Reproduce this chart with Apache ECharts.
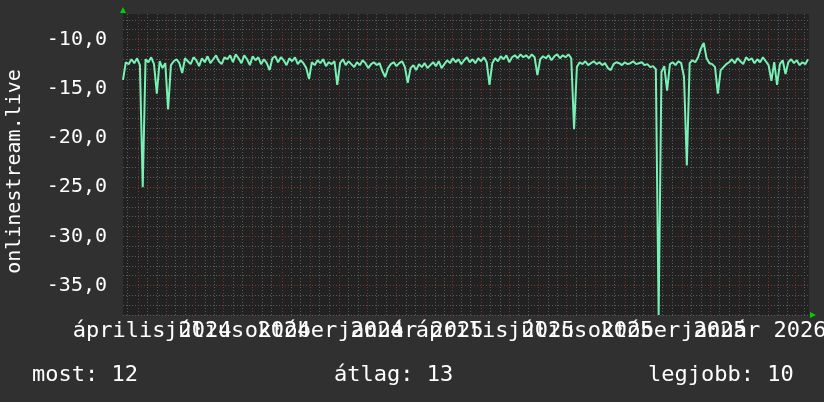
<!DOCTYPE html>
<html><head><meta charset="utf-8">
<script src="https://cdn.jsdelivr.net/npm/echarts@6/dist/echarts.min.js"></script>
<style>html,body{margin:0;padding:0;background:#303030;}#c{width:824px;height:402px;}</style>
</head><body><div id="c"></div>
<script>
// ---- data ----
const startDate = [2024, 2, 16];   // first day shown (UTC y, monthIndex, d)
const dayCount = 731;              // days on the axis
const sampleStep = 3;              // one reading every 3 days
const monthNames = ['január','február','március','április','május','június','július','augusztus','szeptember','október','november','december'];
const labelMonths = [0, 3, 6, 9];  // quarterly labels
const yTitle = 'onlinestream.live';
const legendTexts = ['most: 12', 'átlag: 13', 'legjobb: 10'];
const values = [
 -14.1,-12.3,-12.5,-12.0,-12.4,-11.9,-12.6,-25.0,-12.0,-12.3,
 -11.8,-12.5,-15.5,-12.2,-12.9,-12.4,-17.1,-12.6,-12.2,-12.0,
 -12.4,-13.4,-11.9,-12.2,-12.5,-11.8,-12.1,-12.7,-11.9,-12.3,
 -11.7,-12.4,-12.0,-11.6,-12.2,-12.5,-11.8,-12.0,-11.6,-12.3,
 -11.5,-11.9,-12.4,-11.6,-12.0,-12.6,-11.7,-12.1,-11.8,-12.5,
 -12.0,-12.4,-13.1,-11.9,-11.7,-12.3,-11.8,-12.1,-12.6,-11.9,
 -12.2,-11.8,-12.5,-12.1,-12.4,-12.9,-14.0,-12.3,-12.6,-12.1,
 -12.4,-12.0,-12.7,-12.3,-12.5,-12.2,-14.6,-12.4,-12.0,-12.6,
 -12.2,-12.5,-12.8,-12.3,-12.6,-12.1,-12.4,-12.9,-12.5,-12.3,
 -12.6,-12.4,-13.2,-13.8,-12.9,-12.5,-12.3,-12.7,-12.4,-12.2,
 -12.8,-14.4,-12.9,-12.6,-13.1,-12.5,-12.8,-12.4,-12.9,-12.6,
 -12.3,-12.7,-12.2,-12.9,-12.5,-12.1,-12.4,-11.9,-12.3,-12.0,
 -12.5,-12.1,-11.8,-12.3,-12.0,-12.4,-11.9,-12.2,-11.8,-12.3,
 -14.6,-12.4,-11.9,-12.2,-11.7,-12.0,-11.6,-12.3,-11.8,-11.6,
 -11.9,-11.5,-11.8,-11.6,-11.9,-11.5,-11.8,-13.6,-12.0,-11.7,
 -11.9,-11.6,-12.1,-11.7,-11.5,-11.9,-11.6,-11.8,-11.5,-11.9,
 -19.1,-12.8,-12.3,-12.5,-12.2,-12.6,-12.4,-12.2,-12.5,-12.3,
 -12.6,-12.4,-12.9,-13.1,-12.5,-12.3,-12.4,-12.6,-12.3,-12.5,
 -12.4,-12.2,-12.5,-12.4,-12.3,-12.6,-12.5,-12.8,-12.7,-13.0,
 -38.0,-13.3,-12.7,-15.2,-12.5,-12.3,-12.6,-12.2,-12.4,-13.8,
 -22.8,-12.4,-12.1,-12.3,-11.8,-10.9,-10.35,-11.9,-12.4,-12.5,
 -12.8,-15.5,-13.1,-12.8,-12.5,-12.3,-12.0,-12.4,-11.9,-12.2,
 -12.5,-11.8,-12.1,-11.9,-12.4,-12.0,-12.3,-11.8,-12.2,-12.6,
 -14.2,-12.3,-14.6,-12.5,-12.1,-13.5,-12.3,-12.0,-12.4,-12.1,
 -12.6,-12.3,-12.5,-12.0
];

// ---- build ----
const categories = [];
for (let i = 0; i < dayCount; i++) {
  const d = new Date(Date.UTC(startDate[0], startDate[1], startDate[2] + i));
  categories.push(d.toISOString().slice(0, 10));
}
const seriesData = values.map((v, i) => [i * sampleStep, v]);
const isLabelDay = val => { const d = new Date(val); return d.getUTCDate() === 16 && labelMonths.includes(d.getUTCMonth()); };

const G = {left: 123, top: 14, width: 686, height: 301};
const FONT = "'DejaVu Sans Mono', monospace";
const GREY = '#5a5a5a', RED = '#7a3434';

const chart = echarts.init(document.getElementById('c'), null, {renderer: 'canvas'});
chart.setOption({
  backgroundColor: '#303030',
  animation: false,
  grid: {left: G.left, top: G.top, width: G.width, height: G.height, show: true,
         backgroundColor: '#222222', borderWidth: 0, containLabel: false, outerBoundsMode: 'none'},
  xAxis: {
    type: 'category', data: categories, boundaryGap: false,
    axisLine: {show: false}, axisTick: {show: false},
    axisLabel: {
      interval: 0,
      formatter: val => { if (!isLabelDay(val)) return ''; const d = new Date(val); return monthNames[d.getUTCMonth()] + ' ' + d.getUTCFullYear(); },
      color: '#ffffff', fontFamily: FONT, fontSize: 22, margin: 5, hideOverlap: false
    },
    splitLine: {
      show: true,
      interval: (idx, val) => [1, 11, 21].includes(new Date(val).getUTCDate()),
      lineStyle: {color: [GREY, RED, GREY], width: 1, type: [1, 2]}
    }
  },
  yAxis: {
    type: 'value', min: -38, max: -7.4, interval: 1,
    axisLine: {show: false}, axisTick: {show: false},
    axisLabel: {
      formatter: v => (Math.abs(v % 5) < 1e-9 ? v.toFixed(1).replace('.', ',') : ''),
      color: '#ffffff', fontFamily: FONT, fontSize: 20, margin: 16
    },
    splitLine: {show: true, showMaxLine: false,
      lineStyle: {color: [GREY, GREY, GREY, RED, GREY], width: 1, type: [1, 2]}},
    name: yTitle, nameLocation: 'middle', nameGap: 98,
    nameTextStyle: {color: '#ffffff', fontFamily: FONT, fontSize: 20, padding: [0, 14, 0, 0]}
  },
  series: [{
    type: 'line', data: seriesData, showSymbol: false, symbol: 'none',
    lineStyle: {color: '#78f0b6', width: 2}, itemStyle: {color: '#78f0b6'}
  }],
  graphic: [
    {type: 'polygon', shape: {points: [[G.left - 3, G.top - 1], [G.left + 3, G.top - 1], [G.left, G.top - 7]]}, style: {fill: '#00cc00'}},
    {type: 'polygon', shape: {points: [[G.left + G.width + 1, G.top + G.height - 3], [G.left + G.width + 1, G.top + G.height + 3], [G.left + G.width + 7, G.top + G.height]]}, style: {fill: '#00cc00'}},
    {type: 'text', left: 32, top: 364, style: {text: legendTexts[0], fill: '#ffffff', font: '22px ' + FONT}},
    {type: 'text', left: 334, top: 364, style: {text: legendTexts[1], fill: '#ffffff', font: '22px ' + FONT}},
    {type: 'text', left: 648, top: 364, style: {text: legendTexts[2], fill: '#ffffff', font: '22px ' + FONT}}
  ]
});
</script></body></html>
